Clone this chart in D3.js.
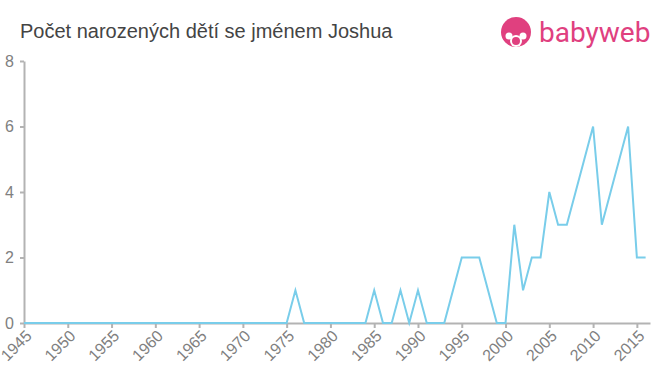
<!DOCTYPE html>
<html>
<head>
<meta charset="utf-8">
<script src="https://cdn.jsdelivr.net/npm/d3@7"></script>
<style>
  body { margin:0; background:#fff; }
  svg { font-family: "Liberation Sans", Arial, sans-serif; }
  .axis path, .axis line { stroke:#b3b3b3; stroke-width:2; }
  .axis text { fill:#808080; font-size:16px; }
</style>
</head>
<body>
<svg id="chart" width="660" height="375"></svg>
<script>
// years and number of births
const years = d3.range(1945, 2017);
const births = [
  0,0,0,0,0, 0,0,0,0,0,   // 1945-1954
  0,0,0,0,0, 0,0,0,0,0,   // 1955-1964
  0,0,0,0,0, 0,0,0,0,0,   // 1965-1974
  0,1,0,0,0, 0,0,0,0,0,   // 1975-1984
  1,0,0,1,0, 1,0,0,0,1,   // 1985-1994
  2,2,2,1,0, 0,3,1,2,2,   // 1995-2004
  4,3,3,4,5, 6,3,4,5,6,   // 2005-2014
  2,2                     // 2015-2016
];
const yTicks = [0,2,4,6,8];
const xTicks = d3.range(1945, 2016, 5);
const title = "Počet narozených dětí se jménem Joshua";

const svg = d3.select("#chart");
const margin = {left:24, right:10, top:61, bottom:52};
const width = 660, height = 375;

const xScale = d3.scaleLinear()
    .domain([1945, 2016.5])
    .range([margin.left, width - margin.right]);
const yScale = d3.scaleLinear()
    .domain([0, 8])
    .range([height - margin.bottom, margin.top]);

// title
svg.append("text")
    .attr("x", 20).attr("y", 38)
    .attr("fill", "#444")
    .style("font-size", "20px")
    .text(title);

// y axis
const yAxis = svg.append("g")
    .attr("class", "axis yAxis")
    .attr("transform", "translate(" + margin.left + ",0)")
    .call(d3.axisLeft(yScale).tickValues(yTicks).tickSize(4).tickPadding(6).tickSizeOuter(0));

// x axis
const xAxis = svg.append("g")
    .attr("class", "axis xAxis")
    .attr("transform", "translate(0," + yScale(0) + ")")
    .call(d3.axisBottom(xScale).tickValues(xTicks).tickFormat(d3.format("d")).tickSize(5).tickSizeOuter(0));
xAxis.selectAll("text")
    .attr("text-anchor", "end")
    .attr("dx", 0)
    .attr("dy", "0.35em")
    .attr("transform", "rotate(-45)")
    .attr("y", 10).attr("x", -4);

// line
const lineData = d3.line()
    .x((d, i) => xScale(years[i]))
    .y(d => yScale(d));
svg.append("path")
    .datum(births)
    .attr("fill", "none")
    .attr("stroke", "#79cdea")
    .attr("stroke-width", 2)
    .attr("d", lineData);

// logo
const logo = svg.append("g").attr("transform", "translate(516,32)");
const pink = "#e0407f";
logo.append("circle").attr("r", 15).attr("fill", pink);
logo.append("circle").attr("cx", -7).attr("cy", 4).attr("r", 3.5).attr("fill", "#fff");
logo.append("circle").attr("cx", 7).attr("cy", 4).attr("r", 3.5).attr("fill", "#fff");
logo.append("circle").attr("cx", 0).attr("cy", 9).attr("r", 6).attr("fill", "#fff");
logo.append("circle").attr("cx", 0).attr("cy", 9).attr("r", 4).attr("fill", pink);
svg.append("text")
    .attr("x", 539).attr("y", 42)
    .attr("fill", pink)
    .style("font-size", "28px")
    .style("font-family", "Roboto, 'Liberation Sans', sans-serif")
    .text("babyweb");
</script>
</body>
</html>
